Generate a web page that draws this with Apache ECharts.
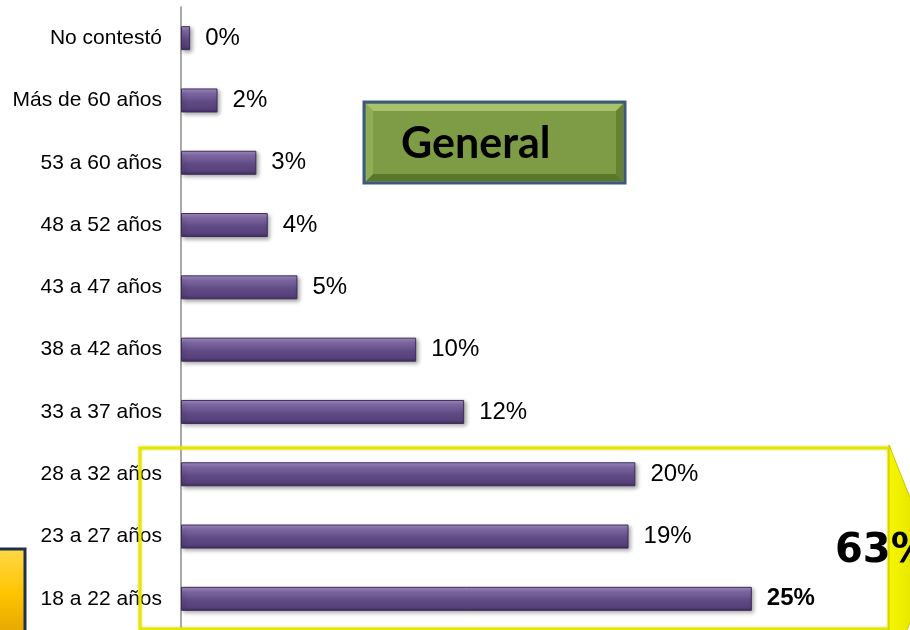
<!DOCTYPE html>
<html>
<head>
<meta charset="utf-8">
<script src="https://cdn.jsdelivr.net/npm/echarts@6/dist/echarts.min.js"></script>
<style>
  html, body { margin: 0; padding: 0; background: #fff; }
  #chart { width: 910px; height: 630px; }
</style>
</head>
<body>
<div id="chart"></div>
<script>
// categorias de abajo hacia arriba
const categories = ['18 a 22 años', '23 a 27 años', '28 a 32 años', '33 a 37 años', '38 a 42 años',
  '43 a 47 años', '48 a 52 años', '53 a 60 años', 'Más de 60 años', 'No contestó'];
const values = [25.0, 19.6, 19.9, 12.4, 10.3, 5.1, 3.8, 3.3, 1.6, 0.4];
const valueLabels = ['25%', '19%', '20%', '12%', '10%', '5%', '4%', '3%', '2%', '0%'];
const groupTotal = '63%';
const boxTitle = 'General';

const chart = echarts.init(document.getElementById('chart'));

const barColor = new echarts.graphic.LinearGradient(0, 0, 0, 1, [
  { offset: 0, color: '#a893c6' },
  { offset: 0.22, color: '#7d67a3' },
  { offset: 0.55, color: '#604b84' },
  { offset: 0.85, color: '#56417a' },
  { offset: 1, color: '#3f2e5f' }
]);

const option = {
  animation: false,
  grid: { left: 181, top: 7, width: 685, height: 625 },
  xAxis: { type: 'value', min: 0, max: 30, show: false },
  yAxis: {
    type: 'category',
    data: categories,
    axisLine: { lineStyle: { color: '#8c8c8c', width: 1.5 } },
    axisTick: { show: false },
    axisLabel: { margin: 19, fontSize: 21, color: '#000', fontFamily: 'Liberation Sans, Arial' }
  },
  series: [{
    type: 'bar',
    data: values.map((v, i) => ({
      value: v,
      label: i === 0 ? { fontWeight: 'bold' } : {}
    })),
    barWidth: 24,
    itemStyle: {
      color: barColor,
      borderColor: '#3d2c5a',
      borderWidth: 1,
      shadowColor: 'rgba(0,0,0,0.35)',
      shadowBlur: 4,
      shadowOffsetX: 2,
      shadowOffsetY: 2
    },
    label: {
      show: true,
      position: 'right',
      distance: 15,
      fontSize: 24,
      color: '#000',
      fontFamily: 'Liberation Sans, Arial',
      formatter: p => valueLabels[p.dataIndex]
    }
  }],
  graphic: [
    // caja verde "General"
    {
      type: 'group', z: 100,
      children: [
        { type: 'rect', shape: { x: 364, y: 102, width: 261, height: 81 },
          style: { fill: '#7e9b46', stroke: '#3c5a7e', lineWidth: 3 } },
        { type: 'polygon', shape: { points: [[366, 104], [623, 104], [616, 111], [373, 111]] },
          style: { fill: '#a7c26a' } },
        { type: 'polygon', shape: { points: [[366, 181], [623, 181], [616, 174], [373, 174]] },
          style: { fill: '#5b762d' } },
        { type: 'polygon', shape: { points: [[623, 104], [623, 181], [616, 174], [616, 111]] },
          style: { fill: '#66812f' } },
        { type: 'polygon', shape: { points: [[366, 104], [366, 181], [373, 174], [373, 111]] },
          style: { fill: '#90ad55' } },
        { type: 'text', style: { x: 401, y: 144, text: boxTitle, font: 'bold 43px Lato, sans-serif',
          fill: '#000', verticalAlign: 'middle' } }
      ]
    },
    // recuadro amarillo
    {
      type: 'rect', z: 100,
      shape: { x: 140, y: 448, width: 749, height: 181 },
      style: { fill: 'none', stroke: '#e6e600', lineWidth: 3, shadowColor: 'rgba(200,200,0,0.6)', shadowBlur: 3 }
    },
    {
      type: 'polygon', z: 101,
      shape: { points: [[889, 445], [935, 560], [889, 675]] },
      style: {
        fill: new echarts.graphic.LinearGradient(0, 0, 1, 0, [
          { offset: 0, color: '#f6f600' }, { offset: 1, color: '#d9d900' }
        ]),
        stroke: '#c8c800', lineWidth: 1
      }
    },
    {
      type: 'text', z: 102,
      style: { x: 835, y: 552, text: groupTotal, font: 'bold 40px "DejaVu Sans", sans-serif',
        fill: '#000', verticalAlign: 'middle' }
    },
    // caja dorada izquierda
    {
      type: 'rect', z: 100,
      shape: { x: -6, y: 549, width: 31, height: 90 },
      style: {
        fill: new echarts.graphic.LinearGradient(0, 0, 0, 1, [
          { offset: 0, color: '#ffd94a' }, { offset: 0.5, color: '#ffc400' }, { offset: 1, color: '#e0a200' }
        ]),
        stroke: '#1f3049', lineWidth: 3
      }
    }
  ]
};

chart.setOption(option);
window.addEventListener('resize', () => chart.resize());
</script>
</body>
</html>
